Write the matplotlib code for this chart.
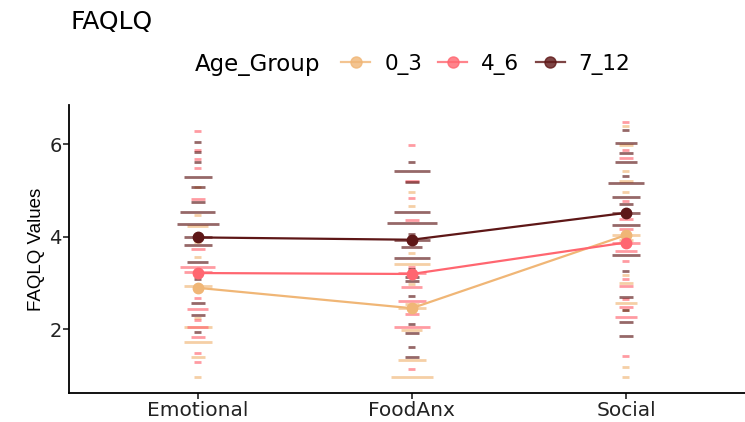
import matplotlib.pyplot as plt
import numpy as np

plt.rcParams['font.family'] = ['DejaVu Sans']

categories = ["Emotional", "FoodAnx", "Social"]
groups = ["0_3", "4_6", "7_12"]
colors = {"0_3": "#F0B676", "4_6": "#FF6670", "7_12": "#5E1717"}

# group means per category
means = {
    "0_3": [2.90, 2.46, 4.04],
    "4_6": [3.22, 3.20, 3.88],
    "7_12": [3.99, 3.94, 4.52],
}

# individual responses: (value, how many overlap) per category
emotional = {
    "0_3": [(5.07, 1), (4.48, 1), (4.24, 3), (3.90, 1), (3.57, 1), (2.93, 4), (2.25, 1),
            (2.06, 4), (1.74, 4), (1.40, 2), (0.98, 1)],
    "4_6": [(6.29, 1), (5.88, 1), (5.69, 1), (5.49, 1), (4.82, 2), (3.74, 2), (3.34, 5),
            (3.25, 4), (2.69, 1), (2.44, 3), (2.20, 1), (2.06, 3), (1.83, 2), (1.49, 1),
            (1.29, 1)],
    "7_12": [(6.06, 1), (5.83, 1), (5.61, 1), (5.30, 4), (5.07, 2), (4.75, 2), (4.53, 5),
             (4.27, 6), (4.00, 4), (3.83, 4), (3.46, 3), (3.09, 1), (2.57, 2), (2.31, 2),
             (1.95, 1)],
}
foodanx = {
    "0_3": [(4.98, 1), (4.66, 1), (3.65, 1), (3.41, 5), (2.98, 1), (2.56, 2), (2.46, 4),
            (1.99, 3), (1.33, 4), (0.98, 6)],
    "4_6": [(5.99, 1), (5.21, 2), (4.84, 1), (4.36, 2), (3.36, 1), (3.23, 4), (2.91, 3),
            (2.62, 4), (2.34, 2), (2.05, 5), (1.14, 1)],
    "7_12": [(5.61, 1), (5.42, 5), (5.18, 2), (4.55, 5), (4.30, 7), (4.06, 1), (3.94, 5),
             (3.78, 3), (3.55, 5), (3.31, 1), (3.14, 2), (3.05, 2), (2.73, 1), (2.11, 1),
             (1.92, 2), (1.62, 1), (1.41, 2)],
}
social = {
    "0_3": [(6.39, 1), (5.99, 2), (5.43, 1), (5.20, 2), (4.98, 1), (4.04, 4), (3.93, 2),
            (3.18, 1), (3.00, 2), (2.58, 3), (2.42, 1), (1.20, 1), (0.98, 1)],
    "4_6": [(6.48, 1), (5.88, 1), (5.71, 2), (4.78, 1), (4.38, 2), (4.17, 2), (3.88, 4),
            (3.70, 3), (3.47, 1), (3.10, 1), (2.94, 2), (2.65, 1), (2.48, 2), (2.26, 3),
            (1.43, 1)],
    "7_12": [(6.31, 1), (6.04, 3), (5.82, 2), (5.61, 3), (5.32, 1), (5.16, 5), (4.87, 4),
             (4.71, 2), (4.52, 4), (4.26, 4), (3.93, 1), (3.60, 4), (3.26, 1), (2.71, 2),
             (2.42, 1), (2.16, 2), (1.87, 2)],
}
responses = [emotional, foodanx, social]

fig = plt.figure(figsize=(7.45, 4.22), dpi=100)
ax = fig.add_axes([0.093, 0.069, 0.907, 0.682])

x = np.arange(1, len(categories) + 1)
dash_w = 0.0165  # half width per overlapping response, in category units

for i, cat_data in enumerate(responses):
    for g in groups:
        vals = np.array([v for v, n in cat_data[g]])
        cnt = np.array([n for v, n in cat_data[g]])
        ax.hlines(vals, x[i] - cnt * dash_w, x[i] + cnt * dash_w,
                  colors=colors[g], linewidth=2, alpha=0.65, zorder=2)

for g in groups:
    ax.plot(x, means[g], color=colors[g], linewidth=1.6, zorder=3)
    ax.plot(x, means[g], 'o', color=colors[g], markersize=7.5, zorder=4)

ax.set_xlim(0.4, 3.556)
ax.set_ylim(0.63, 6.85)
ax.set_xticks(x)
ax.set_xticklabels(categories, fontsize=14.5, color="#222222")
ax.set_yticks([2, 4, 6])
ax.tick_params(axis='y', labelsize=14, labelcolor="#222222", pad=1.5)
ax.tick_params(axis='x', pad=2)
ax.tick_params(length=4, width=1.2, color="#222222")
ax.set_ylabel("FAQLQ Values", fontsize=13.5, family="Liberation Sans", labelpad=3)
for side in ["top", "right"]:
    ax.spines[side].set_visible(False)
for side in ["left", "bottom"]:
    ax.spines[side].set_linewidth(1.3)

fig.text(0.094, 0.948, "FAQLQ", fontsize=18, va="center")
fig.text(0.262, 0.848, "Age_Group", fontsize=16.5, va="center")
handles = [plt.Line2D([], [], color=colors[g], marker='o', markersize=8,
                      linewidth=1.6, alpha=0.8) for g in groups]
fig.legend(handles, groups, ncol=3, loc="center left", bbox_to_anchor=(0.458, 0.848),
           frameon=False, fontsize=15.5, handlelength=1.35, columnspacing=0.75,
           handletextpad=0.65, borderaxespad=0, borderpad=0)

plt.savefig("out.png", dpi=100)
